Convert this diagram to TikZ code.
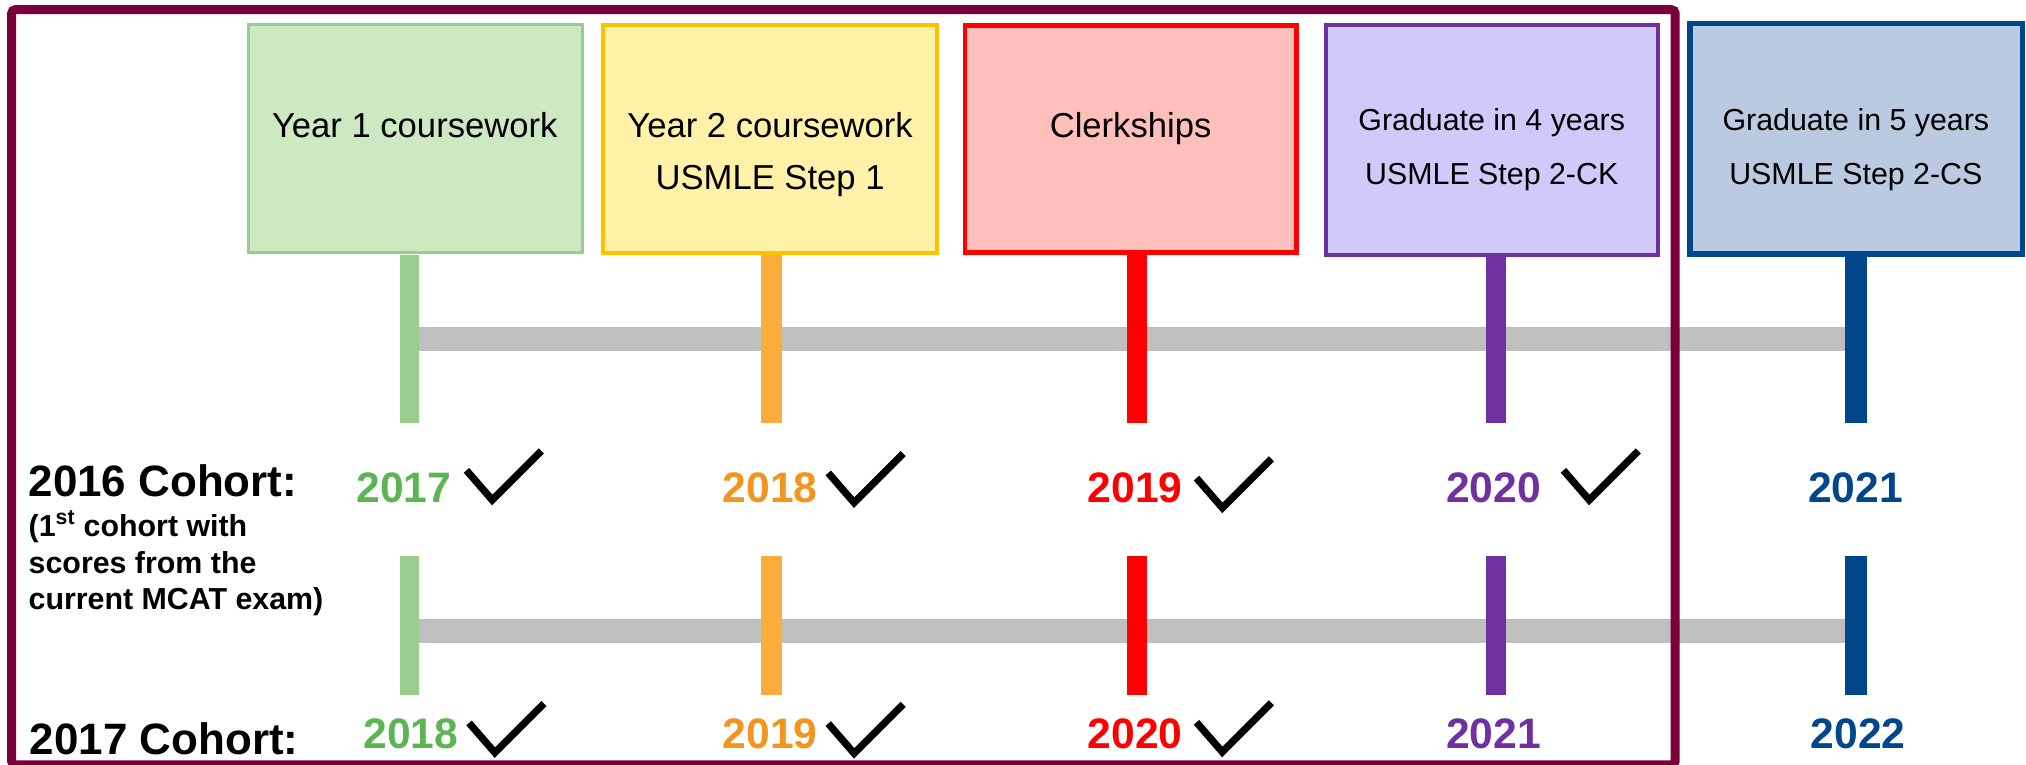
\documentclass[tikz,border=0pt]{standalone}
\usepackage{fontspec}
\setmainfont{Liberation Sans}
\definecolor{frameC}{RGB}{122,0,58}
\definecolor{gText}{RGB}{92,181,82}
\definecolor{gLine}{RGB}{152,206,140}
\definecolor{gFill}{RGB}{204,233,194}
\definecolor{oText}{RGB}{242,148,30}
\definecolor{oLine}{RGB}{251,173,60}
\definecolor{yLine}{RGB}{255,192,0}
\definecolor{yFill}{RGB}{255,242,168}
\definecolor{rLine}{RGB}{255,0,0}
\definecolor{rFill}{RGB}{255,191,187}
\definecolor{pLine}{RGB}{112,48,160}
\definecolor{pFill}{RGB}{208,201,250}
\definecolor{bLine}{RGB}{0,70,138}
\definecolor{bFill}{RGB}{186,202,224}
\definecolor{barGray}{RGB}{191,191,191}
\begin{document}
\begin{tikzpicture}[x=1pt,y=-1pt,
  phase/.style={rectangle, inner sep=0pt, draw, line width=3.5pt},
  boxtxt/.style={anchor=base, inner sep=0pt, font=\fontsize{26.8}{30}\selectfont},
  boxtxtS/.style={anchor=base, inner sep=0pt, font=\fontsize{23.5}{28}\selectfont},
  yr/.style={anchor=base, inner sep=0pt, font=\bfseries\fontsize{33}{38}\selectfont},
  cohort/.style={anchor=base west, inner sep=0pt, font=\bfseries\fontsize{34}{40}\selectfont},
  note/.style={anchor=base west, inner sep=0pt, font=\bfseries\fontsize{23.5}{28}\selectfont},
  stem/.style={line width=15pt},
  bar/.style={line width=18.6pt, draw=barGray},
  chkmark/.pic={\draw[line width=5.6pt, miter limit=10] (0,0) -- (20,23) -- (58,-15);}
]
\useasboundingbox (0,0) rectangle (1568,592);

% timeline coordinates
\coordinate (u1) at (317,197);   \coordinate (v1) at (317,327);
\coordinate (u2) at (597,197);   \coordinate (v2) at (597,327);
\coordinate (u3) at (880,197);   \coordinate (v3) at (880,327);
\coordinate (u4) at (1158,199);  \coordinate (v4) at (1158,327);
\coordinate (u5) at (1436.5,198);\coordinate (v5) at (1436.5,327);
\coordinate (l1) at (317,430);   \coordinate (m1) at (317,538);
\coordinate (l2) at (597,430);   \coordinate (m2) at (597,538);
\coordinate (l3) at (880,430);   \coordinate (m3) at (880,538);
\coordinate (l4) at (1158,430);  \coordinate (m4) at (1158,538);
\coordinate (l5) at (1436.5,430);\coordinate (m5) at (1436.5,538);

% gray bars
\draw[bar] (317,262) coordinate (ga) -- (1436.5,262) coordinate (gb);
\draw[bar] (317,488.5) coordinate (gc) -- (1436.5,488.5) coordinate (gd);

% stems
\draw[stem, draw=gLine, line width=14.5pt] (u1) -- (v1);
\draw[stem, draw=oLine, line width=16pt] (u2) -- (v2);
\draw[stem, draw=rLine] (u3) -- (v3);
\draw[stem, draw=pLine, line width=15.5pt] (u4) -- (v4);
\draw[stem, draw=bLine, line width=17pt] (u5) -- (v5);
\draw[stem, draw=gLine, line width=14.5pt] (l1) -- (m1);
\draw[stem, draw=oLine, line width=16pt] (l2) -- (m2);
\draw[stem, draw=rLine] (l3) -- (m3);
\draw[stem, draw=pLine, line width=15.5pt] (l4) -- (m4);
\draw[stem, draw=bLine, line width=17pt] (l5) -- (m5);

% phase boxes
\node[phase, draw=gLine, fill=gFill, line width=2.8pt, minimum width=258.5pt, minimum height=176.5pt] (b1) at (321.5,107.1) {};
\node[phase, draw=yLine, fill=yFill, minimum width=258.5pt, minimum height=176.3pt] (b2) at (596,107.5) {};
\node[phase, draw=rLine, fill=rFill, minimum width=256.5pt, minimum height=175.5pt] (b3) at (875,107.5) {};
\node[phase, draw=pLine, fill=pFill, minimum width=256.9pt, minimum height=178pt] (b4) at (1154.8,108.2) {};
\node[phase, draw=bLine, fill=bFill, line width=4pt, minimum width=257.5pt, minimum height=178.6pt] (b5) at (1436.7,107.3) {};

\node[boxtxt] (t1) at (321,106.3) {Year 1 coursework};
\node[boxtxt] (t2a) at (596,106.3) {Year 2 coursework};
\node[boxtxt] (t2b) at (596,146.3) {USMLE Step 1};
\node[boxtxt] (t3) at (875,106.3) {Clerkships};
\node[boxtxtS] (t4a) at (1154.5,101) {Graduate in 4 years};
\node[boxtxtS] (t4b) at (1154.5,142.5) {USMLE Step 2-CK};
\node[boxtxtS] (t5a) at (1436.3,101) {Graduate in 5 years};
\node[boxtxtS] (t5b) at (1436.3,142.5) {USMLE Step 2-CS};

% cohort labels
\node[cohort] (c1) at (22,384.5) {2016 Cohort:};
\node[note] (n1) at (22,415) {(1\textsuperscript{st} cohort with};
\node[note] (n2) at (22,443.6) {scores from the};
\node[note] (n3) at (22,472) {current MCAT exam)};
\node[cohort] (c2) at (23,584) {2017 Cohort:};

% years row 1
\node[yr, text=gText] (y11) at (312.5,389) {2017};
\node[yr, text=oText] (y12) at (596,389) {2018};
\node[yr, text=rLine] (y13) at (878.5,389) {2019};
\node[yr, text=pLine] (y14) at (1156,389) {2020};
\node[yr, text=bLine] (y15) at (1436,389) {2021};
% years row 2
\node[yr, text=gText] (y21) at (318,579) {2018};
\node[yr, text=oText] (y22) at (596,579) {2019};
\node[yr, text=rLine] (y23) at (878.5,579) {2020};
\node[yr, text=pLine] (y24) at (1156,579) {2021};
\node[yr, text=bLine] (y25) at (1438,579) {2022};

% check marks
\pic at (361,364) {chkmark};
\pic at (641,366) {chkmark};
\pic at (926,370) {chkmark};
\pic at (1210,364) {chkmark};
\pic at (363,559.5) {chkmark};
\pic at (641,560) {chkmark};
\pic at (926,559) {chkmark};

% frame
\draw[line width=7pt, draw=frameC, rounded corners=3pt] (9,7.5) rectangle (1296.5,592);
\end{tikzpicture}
\end{document}
